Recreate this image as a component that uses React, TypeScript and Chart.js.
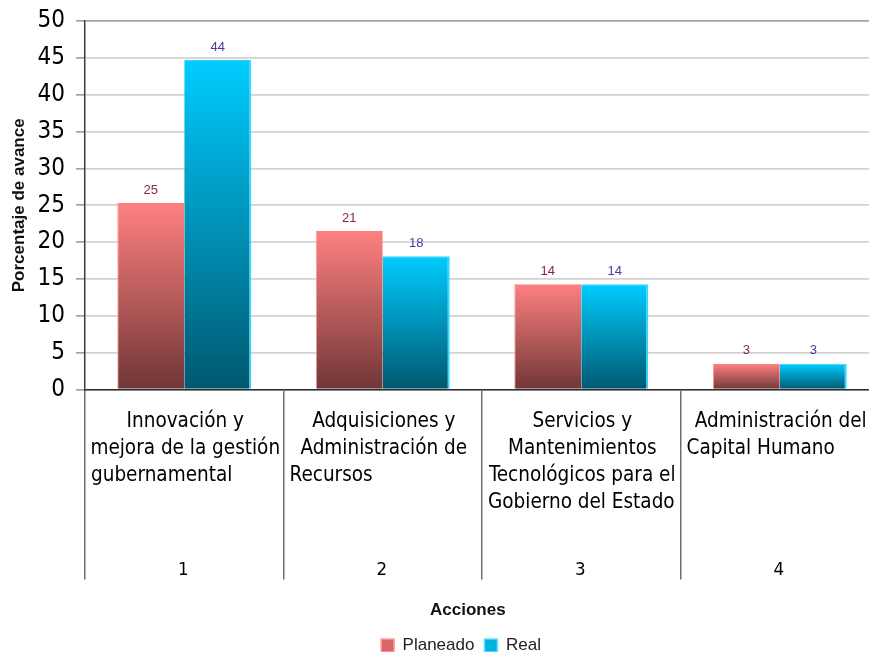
import React, { useEffect, useRef } from 'react';
import { Chart, registerables } from 'chart.js';

Chart.register(...registerables);

// ---- data ----
const categoryNumbers = ['1', '2', '3', '4'];
const categoryLines = [
  ['Innovación y', 'mejora de la gestión', 'gubernamental'],
  ['Adquisiciones y', 'Administración de', 'Recursos'],
  ['Servicios y', 'Mantenimientos', 'Tecnológicos para el', 'Gobierno del Estado'],
  ['Administración del', 'Capital Humano'],
];
const seriesNames = ['Planeado', 'Real'];
const planeado = [25.3, 21.5, 14.3, 3.5];
const real = [44.7, 18.1, 14.3, 3.5];
const yMin = 0;
const yMax = 50;
const yStep = 5;

const SANS = '"DejaVu Sans Condensed", "DejaVu Sans", sans-serif';
const ARIAL = '"Liberation Sans", Arial, sans-serif';

function barGradient(top: string, bottom: string) {
  return (ctx: any) => {
    const chart = ctx.chart;
    const y = chart.scales && chart.scales.y;
    if (!chart.chartArea || !y || ctx.type !== 'data') return top;
    const y0 = y.getPixelForValue(ctx.raw as number);
    const y1 = y.getPixelForValue(0);
    if (!isFinite(y0) || !isFinite(y1) || Math.abs(y1 - y0) < 1) return top;
    const g = chart.ctx.createLinearGradient(0, y0, 0, y1);
    g.addColorStop(0, top);
    g.addColorStop(1, bottom);
    return g;
  };
}

const categoryTextPlugin = {
  id: 'categoryText',
  afterDraw(chart: any) {
    const x = chart.scales.x;
    const area = chart.chartArea;
    const ctx = chart.ctx;
    const n = categoryNumbers.length;
    const w = (x.right - x.left) / n;
    ctx.save();
    ctx.fillStyle = '#000000';
    ctx.textBaseline = 'alphabetic';
    categoryLines.forEach((lines, i) => {
      const cx = x.getPixelForValue(i);
      const left = cx - w / 2;
      ctx.font = `20.5px ${SANS}`;
      lines.forEach((line, j) => {
        const yy = area.bottom + 37.5 + j * 27;
        if (j === lines.length - 1) {
          ctx.textAlign = 'left';
          ctx.fillText(line, left + 6, yy);
        } else {
          ctx.textAlign = 'center';
          ctx.fillText(line, cx + 1, yy);
        }
      });
      ctx.font = `18.5px ${SANS}`;
      ctx.textAlign = 'center';
      ctx.fillText(categoryNumbers[i], cx - 1, area.bottom + 185.5);
    });
    ctx.restore();
  },
};

const valueLabelPlugin = {
  id: 'valueLabels',
  afterDatasetsDraw(chart: any) {
    const ctx = chart.ctx;
    const colors = ['#8b2252', '#4a3aa0'];
    ctx.save();
    ctx.font = `13px ${ARIAL}`;
    ctx.textAlign = 'center';
    ctx.textBaseline = 'middle';
    chart.data.datasets.forEach((ds: any, di: number) => {
      const meta = chart.getDatasetMeta(di);
      ctx.fillStyle = colors[di];
      meta.data.forEach((el: any, i: number) => {
        ctx.fillText(String(Math.trunc(ds.data[i])), el.x, el.y - 13);
      });
    });
    ctx.restore();
  },
};

export default function App() {
  const ref = useRef<HTMLCanvasElement | null>(null);

  useEffect(() => {
    if (!ref.current) return;
    const chart = new Chart(ref.current, {
      type: 'bar',
      data: {
        labels: categoryNumbers,
        datasets: [
          {
            label: seriesNames[0],
            data: planeado,
            backgroundColor: barGradient('#ff8080', '#703636'),
            borderColor: '#ff9a9a',
            borderWidth: { left: 1, right: 0, top: 0, bottom: 0 },
            borderSkipped: false,
          },
          {
            label: seriesNames[1],
            data: real,
            backgroundColor: barGradient('#00ccff', '#005870'),
            borderColor: '#33d6ff',
            borderWidth: { left: 0, right: 2, top: 1, bottom: 0 },
            borderSkipped: false,
          },
        ],
      },
      options: {
        responsive: false,
        animation: false,
        devicePixelRatio: 1,
        layout: { padding: { top: 21, left: 0, right: 0, bottom: 0 } },
        datasets: {
          bar: { categoryPercentage: 0.675, barPercentage: 1.0 },
        },
        scales: {
          x: {
            type: 'category',
            offset: true,
            grid: {
              display: true,
              offset: true,
              drawOnChartArea: false,
              drawTicks: true,
              tickLength: 190,
              color: '#6e6e6e',
              lineWidth: 1.5,
            },
            border: { display: true, color: '#2e2e2e', width: 1.5 },
            ticks: { display: false },
            title: {
              display: true,
              text: 'Acciones      ',
              color: '#111111',
              font: { family: ARIAL, size: 17, weight: 'bold' },
              padding: { top: 21, bottom: 6 },
            },
          },
          y: {
            type: 'linear',
            position: 'left',
            min: yMin,
            max: yMax,
            afterFit: (s: any) => {
              s.width = 85;
            },
            ticks: {
              stepSize: yStep,
              color: '#000000',
              padding: 11,
              font: { family: SANS, size: 24, lineHeight: 0.8 },
            },
            grid: {
              color: (c: any) => (c.tick && c.tick.value === yMax ? '#a4a4a4' : '#d2d2d2'),
              lineWidth: 1.8,
              tickLength: 9,
              tickColor: '#7a7a7a',
              tickWidth: 1.2,
            },
            border: { display: true, color: '#3a3a3a', width: 1.5 },
            title: {
              display: true,
              text: 'Porcentaje de avance',
              color: '#111111',
              font: { family: ARIAL, size: 17, weight: 'bold' },
              padding: { top: 9, bottom: 0 },
            },
          },
          pad: {
            type: 'linear',
            position: 'right',
            display: true,
            grid: { display: false, drawTicks: false },
            border: { display: false },
            ticks: { display: false },
            afterFit: (s: any) => {
              s.width = 43;
            },
          },
        },
        plugins: {
          legend: {
            display: true,
            position: 'bottom',
            labels: {
              color: '#222222',
              font: { family: ARIAL, size: 17 },
              boxWidth: 13,
              boxHeight: 13,
              padding: 10,
              generateLabels: (c: any) => {
                const items = Chart.defaults.plugins.legend.labels.generateLabels(c);
                const fills = ['#d86666', '#00b2e0'];
                const strokes = ['#ffa0a0', '#66e0ff'];
                return items.map((it: any, i: number) => ({
                  ...it,
                  fillStyle: fills[i],
                  strokeStyle: strokes[i],
                  lineWidth: 1.5,
                }));
              },
            },
          },
          tooltip: { enabled: false },
        },
      } as any,
      plugins: [categoryTextPlugin, valueLabelPlugin],
    });
    return () => chart.destroy();
  }, []);

  return (
    <div
      style={{
        position: 'absolute',
        left: 0,
        top: 0,
        width: 869,
        height: 652,
        overflow: 'hidden',
        background: '#ffffff',
      }}
    >
      <canvas ref={ref} width={922} height={664} style={{ display: 'block', width: 922, height: 664 }} />
    </div>
  );
}
